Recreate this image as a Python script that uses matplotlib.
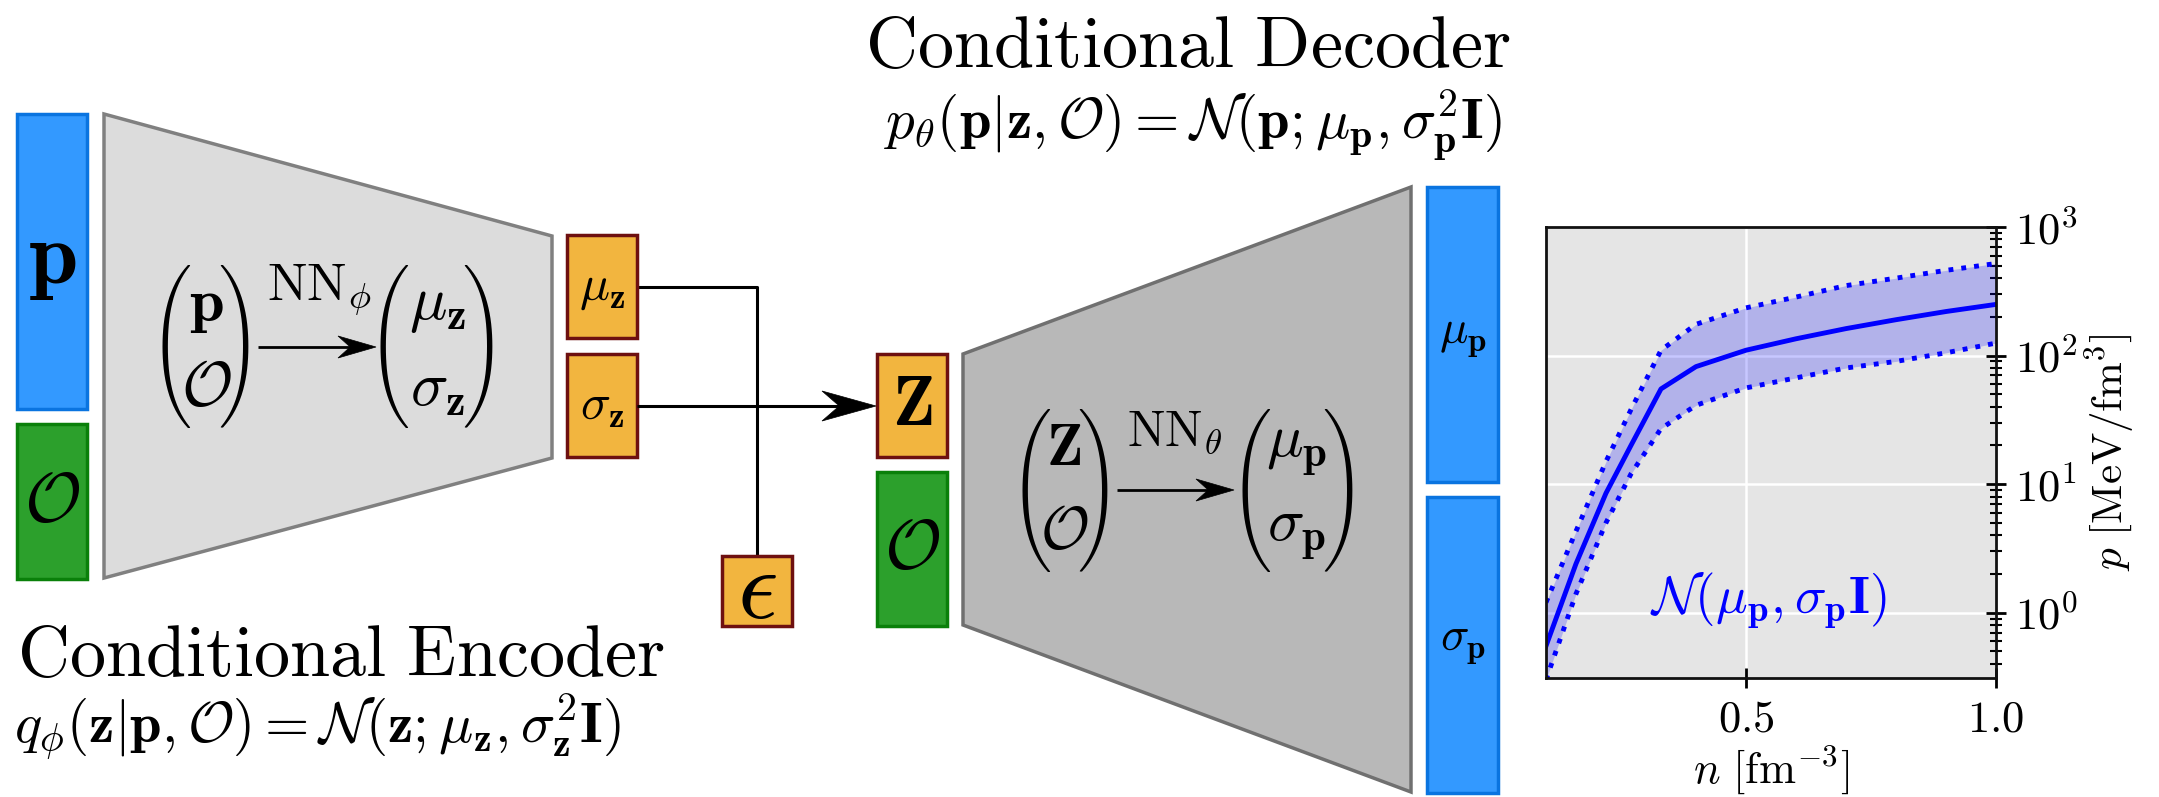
import numpy as np
import matplotlib
matplotlib.use("Agg")
import matplotlib.pyplot as plt
from matplotlib.patches import Rectangle, Polygon
from matplotlib.ticker import FuncFormatter, NullFormatter

plt.rcParams['mathtext.fontset'] = 'cm'
plt.rcParams['font.family'] = ['DejaVu Serif']

# inset data: pressure vs density
n_grid = [0.10, 0.16, 0.22, 0.27, 0.33, 0.40, 0.50, 0.60, 0.70, 0.80, 0.90, 1.00]
p_mean = [0.55, 2.4, 8.5, 20, 55, 82, 110, 135, 162, 190, 220, 250]
p_upper = [1.2, 4.3, 15, 38, 110, 175, 235, 285, 350, 400, 460, 520]
p_lower = [0.30, 1.4, 5.0, 12, 27, 41, 56, 67, 80, 90, 105, 125]

W, H = 2159, 797
BLUE = '#3399ff'
BLUE_E = '#0a74e0'
GREEN = '#2ca02c'
GREEN_E = '#0a800a'
ORANGE = '#f2b53f'
ORANGE_E = '#6e1010'

fig = plt.figure(figsize=(W / 100, H / 100), dpi=100)
ax = fig.add_axes([0, 0, 1, 1])
ax.set_xlim(0, W)
ax.set_ylim(H, 0)
ax.axis('off')


def box(x0, y0, x1, y1, fc, ec, lw=2.5):
    ax.add_patch(Rectangle((x0, y0), x1 - x0, y1 - y0, fc=fc, ec=ec, lw=lw, zorder=3))


def tex(x, y, s, size, **kw):
    ax.text(x, y, s, fontsize=size, ha=kw.pop('ha', 'center'), va=kw.pop('va', 'center'), zorder=5, **kw)


def arrow(x0, x1, y, L, w, lw=2.2):
    # straight line with a stealth-style arrow head
    ax.plot([x0, x1 - 0.6 * L], [y, y], color='k', lw=lw, zorder=4, solid_capstyle='butt')
    ax.add_patch(Polygon([(x1, y), (x1 - L, y - w), (x1 - 0.68 * L, y), (x1 - L, y + w)],
                         closed=True, fc='k', ec='k', lw=0.5, zorder=4))


def vec(xl, xc, xr, yc, top, bottom, size, dy=42):
    # column vector: big cmex10 parentheses around two rows
    tex(xl, yc, '\xc3', 38, family='cmex10')
    tex(xr, yc, '\x21', 38, family='cmex10')
    tex(xc, yc - dy, '$%s$' % top, size)
    tex(xc, yc + dy, '$%s$' % bottom, size)


# encoder
box(17, 114, 87, 409, BLUE, BLUE_E)
box(17, 424, 87, 579, GREEN, GREEN_E)
ax.add_patch(Polygon([(104, 114), (552, 236), (552, 458), (104, 578)], closed=True,
                     fc='#dcdcdc', ec='#808080', lw=2.5, zorder=2))
box(567, 235, 637, 338, ORANGE, ORANGE_E)
box(567, 354, 637, 457, ORANGE, ORANGE_E)
box(722, 556, 792, 626, ORANGE, ORANGE_E)

tex(52, 258, r'$\mathbf{p}$', 64)
tex(52, 502, r'$\mathcal{O}$', 50)
tex(602, 287, r'$\mu_\mathbf{z}$', 36)
tex(602, 406, r'$\sigma_\mathbf{z}$', 36)
tex(757, 591, r'$\epsilon$', 72)

vec(170, 206, 239, 346, r'\mathbf{p}', r'\mathcal{O}', 45)
vec(388, 438, 483, 346, r'\mu_\mathbf{z}', r'\sigma_\mathbf{z}', 45)
arrow(258, 376, 347, 38, 11, lw=2)
tex(319, 290, r'$\mathrm{NN}_\phi$', 38)

# mu_z and sigma_z wiring
ax.plot([637, 757, 757], [287, 287, 556], color='k', lw=2.2, zorder=1)
arrow(637, 876, 406, 54, 15)

tex(17, 676, r'$\mathrm{Conditional\ Encoder}$', 52, ha='left', va='baseline')
tex(14, 742, r'$q_\phi(\mathbf{z}|\mathbf{p},\mathcal{O}) = \mathcal{N}(\mathbf{z};\mu_\mathbf{z},\sigma^2_\mathbf{z}\mathbf{I})$',
    41, ha='left', va='baseline')

# decoder
box(877, 354, 947, 457, ORANGE, ORANGE_E)
box(877, 472, 947, 626, GREEN, GREEN_E)
ax.add_patch(Polygon([(963, 354), (1411, 187), (1411, 792), (963, 625)], closed=True,
                     fc='#b8b8b8', ec='#707070', lw=2.5, zorder=2))
box(1427, 187, 1498, 482, BLUE, BLUE_E)
box(1427, 497, 1498, 793, BLUE, BLUE_E)

tex(912, 406, r'$\mathbf{Z}$', 50)
tex(912, 549, r'$\mathcal{O}$', 50)
tex(1463, 336, r'$\mu_\mathbf{p}$', 34)
tex(1463, 643, r'$\sigma_\mathbf{p}$', 34)

vec(1030, 1064, 1098, 490, r'\mathbf{Z}', r'\mathcal{O}', 43)
vec(1250, 1297, 1343, 490, r'\mu_\mathbf{p}', r'\sigma_\mathbf{p}', 44)
arrow(1117, 1234, 490, 38, 11, lw=2)
tex(1175, 432, r'$\mathrm{NN}_\theta$', 36)

tex(1188, 67, r'$\mathrm{Conditional\ Decoder}$', 52, va='baseline')
tex(1193, 138, r'$p_\theta(\mathbf{p}|\mathbf{z},\mathcal{O}) = \mathcal{N}(\mathbf{p};\mu_\mathbf{p},\sigma^2_\mathbf{p}\mathbf{I})$',
    41, va='baseline')

# inset EOS plot
ax2 = fig.add_axes([1546 / W, (H - 678) / H, (1996 - 1546) / W, (678 - 227) / H])
ax2.set_facecolor('#e5e5e5')
ax2.fill_between(n_grid, p_lower, p_upper, color='blue', alpha=0.22, lw=0)
ax2.plot(n_grid, p_mean, color='blue', lw=3.5)
ax2.plot(n_grid, p_upper, color='blue', lw=3.5, ls=':')
ax2.plot(n_grid, p_lower, color='blue', lw=3.5, ls=':')
ax2.set_yscale('log')
ax2.set_xlim(0.1, 1.0)
ax2.set_ylim(0.31, 1000)
ax2.set_xticks([0.5, 1.0], [r'$0.5$', r'$1.0$'])
ax2.yaxis.set_major_formatter(FuncFormatter(lambda v, pos: r'$10^{%d}$' % round(np.log10(v))))
ax2.yaxis.set_minor_formatter(NullFormatter())
ax2.yaxis.tick_right()
ax2.yaxis.set_label_position('right')
ax2.grid(True, which='major', color='white', lw=1.8)
ax2.set_axisbelow(True)
ax2.tick_params(which='major', direction='inout', length=14, width=2, labelsize=32, pad=7)
ax2.tick_params(which='minor', direction='inout', length=9, width=1.5)
ax2.tick_params(axis='y', which='both', left=False, right=True)
for sp in ax2.spines.values():
    sp.set_linewidth(2)
    sp.set_color('#111111')
ax2.set_xlabel(r'$n\ [\mathrm{fm}^{-3}]$', fontsize=32, labelpad=2)
ax2.set_ylabel(r'$p\ [\mathrm{MeV/fm}^3]$', fontsize=31, labelpad=4)
ax2.text(0.546, 1.24, r'$\mathcal{N}(\mu_\mathbf{p},\sigma_\mathbf{p}\mathbf{I})$', color='blue',
         fontsize=38, ha='center', va='center')

fig.savefig('out.png', dpi=100)
